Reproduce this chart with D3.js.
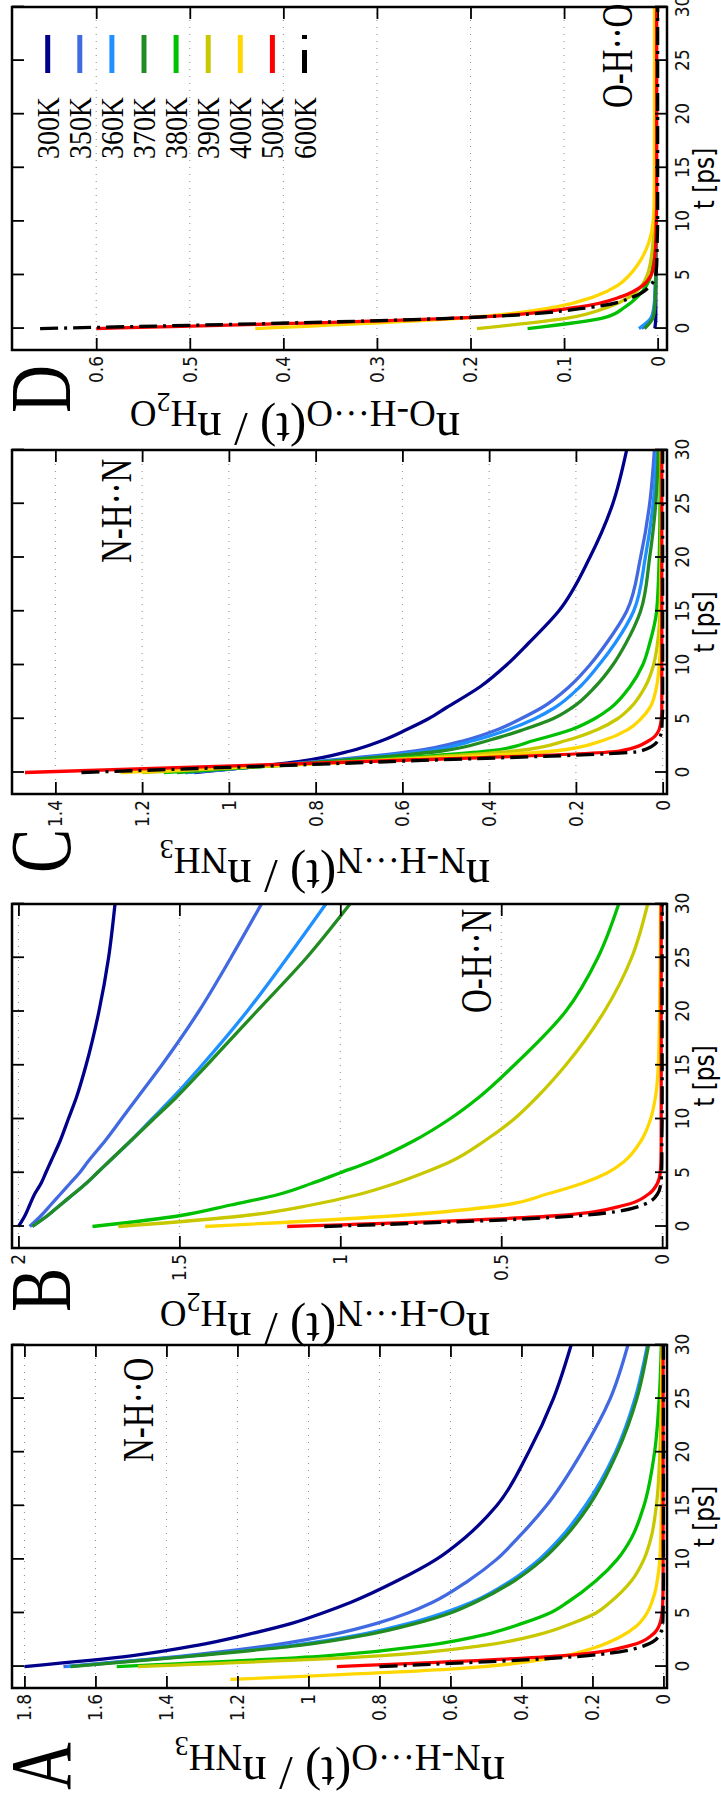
<!DOCTYPE html>
<html><head><meta charset="utf-8">
<script src="https://cdn.jsdelivr.net/npm/d3@7"></script>
<style>html,body{margin:0;padding:0;background:#fff}</style>
</head><body><svg id="c" width="721" height="1801" xmlns="http://www.w3.org/2000/svg"></svg>
<script>
// ---------- data ----------
const tVals = [0,1,2,3,4,5,6,8,10,12,15,20,25,30];
const tA400 = [-1.2,-0.2,0.8,1.8,2.8,3.8,4.8,6.8,8.8,10.8,14.8,19.8,24.8,28.8];
const temps = ["300K","350K","360K","370K","380K","390K","400K","500K","600K"];
const colors = ["#00008b","#4169e1","#1e90ff","#228b22","#00c000","#c8c800","#ffd700","#ff0000","#000000"];
const tTicks = [0,5,10,15,20,25,30];
const ticksA = [0,0.2,0.4,0.6,0.8,1,1.2,1.4,1.6,1.8];
const ticksB = [0,0.5,1,1.5,2];
const ticksC = [0,0.2,0.4,0.6,0.8,1,1.2,1.4];
const ticksD = [0,0.1,0.2,0.3,0.4,0.5,0.6];

const seriesA = [
 [1.80,1.50,1.31,1.17,1.05,0.96,0.88,0.75,0.64,0.56,0.47,0.38,0.31,0.26],
 [1.69,1.35,1.10,0.93,0.81,0.72,0.65,0.55,0.47,0.41,0.33,0.23,0.15,0.10],
 [1.68,1.33,1.04,0.85,0.72,0.62,0.54,0.43,0.35,0.29,0.22,0.135,0.08,0.045],
 [1.67,1.32,1.02,0.83,0.70,0.60,0.53,0.42,0.34,0.28,0.21,0.13,0.075,0.042],
 [1.54,0.95,0.66,0.50,0.40,0.32,0.27,0.19,0.13,0.09,0.055,0.025,0.012,0.006],
 [1.48,0.80,0.50,0.35,0.26,0.19,0.15,0.09,0.055,0.035,0.02,0.01,0.006,0.004],
 [1.22,0.58,0.31,0.19,0.12,0.075,0.05,0.025,0.014,0.009,0.006,0.005,0.004,0.004],
 [0.92,0.29,0.09,0.03,0.01,0.004,0.002,0.001,0.001,0.001,0.001,0.001,0.001,0.001],
 [0.80,0.22,0.05,0.01,0.002,0.001,0.0005,0,0,0,0,0,0,0]
];
const seriesB = [
 [2.0,1.98,1.965,1.95,1.93,1.915,1.90,1.87,1.845,1.82,1.79,1.75,1.72,1.70],
 [1.965,1.93,1.90,1.87,1.84,1.81,1.785,1.73,1.68,1.63,1.555,1.44,1.34,1.245],
 [1.957,1.91,1.87,1.83,1.79,1.755,1.72,1.65,1.585,1.52,1.43,1.29,1.165,1.045],
 [1.957,1.91,1.87,1.83,1.79,1.755,1.72,1.65,1.58,1.51,1.415,1.26,1.105,0.97],
 [1.77,1.50,1.34,1.19,1.09,1.00,0.91,0.77,0.66,0.57,0.46,0.30,0.20,0.135],
 [1.69,1.30,1.09,0.94,0.83,0.74,0.66,0.55,0.46,0.39,0.30,0.18,0.095,0.045],
 [1.42,0.83,0.49,0.36,0.25,0.17,0.12,0.065,0.036,0.021,0.012,0.008,0.006,0.005],
 [1.165,0.33,0.115,0.043,0.015,0.006,0.004,0.003,0.003,0.003,0.003,0.003,0.003,0.003],
 [1.05,0.26,0.06,0.015,0.004,0.002,0.001,0.001,0,0,0,0,0,0]
];
const seriesC = [
 [1.08,0.84,0.72,0.645,0.59,0.54,0.50,0.42,0.36,0.31,0.24,0.168,0.115,0.083],
 [1.10,0.80,0.57,0.455,0.38,0.327,0.28,0.215,0.168,0.13,0.083,0.051,0.03,0.019],
 [1.10,0.79,0.54,0.433,0.355,0.295,0.25,0.19,0.147,0.11,0.067,0.04,0.022,0.014],
 [1.12,0.78,0.51,0.40,0.32,0.253,0.21,0.155,0.115,0.085,0.051,0.03,0.016,0.01],
 [1.15,0.74,0.40,0.295,0.21,0.157,0.12,0.075,0.046,0.03,0.014,0.008,0.006,0.005],
 [1.20,0.72,0.34,0.22,0.15,0.104,0.075,0.04,0.021,0.012,0.006,0.004,0.003,0.003],
 [1.25,0.70,0.25,0.136,0.08,0.05,0.03,0.014,0.008,0.005,0.004,0.003,0.003,0.003],
 [1.47,0.70,0.10,0.03,0.008,0.003,0.002,0.002,0.002,0.002,0.002,0.002,0.002,0.002],
 [1.34,0.64,0.05,0.01,0.002,0.001,0,0,0,0,0,0,0,0]
];
const seriesD = [
 [0.003,0.002,0.002,0.002,0.002,0.002,0.002,0.002,0.002,0.002,0.002,0.002,0.002,0.002],
 [0.017,0.006,0.0035,0.003,0.0025,0.002,0.002,0.002,0.002,0.002,0.002,0.002,0.002,0.002],
 [0.020,0.007,0.004,0.003,0.0025,0.002,0.002,0.002,0.002,0.002,0.002,0.002,0.002,0.002],
 [0.014,0.005,0.003,0.0025,0.002,0.002,0.002,0.002,0.002,0.002,0.002,0.002,0.002,0.002],
 [0.139,0.058,0.035,0.021,0.012,0.007,0.005,0.003,0.002,0.002,0.002,0.002,0.002,0.002],
 [0.193,0.095,0.053,0.029,0.017,0.011,0.008,0.005,0.003,0.002,0.002,0.002,0.002,0.002],
 [0.43,0.205,0.11,0.067,0.043,0.03,0.021,0.0095,0.0048,0.0038,0.0035,0.0034,0.0034,0.0034],
 [0.60,0.21,0.085,0.038,0.016,0.007,0.004,0.002,0.0015,0.001,0.001,0.001,0.001,0.001],
 [0.66,0.21,0.07,0.025,0.008,0.002,0.001,0.0005,0,0,0,0,0,0]
];
const notes = ["N-H\u00b7\u00b7O","O-H\u00b7\u00b7N","N-H\u00b7\u00b7N","O-H\u00b7\u00b7O"];
const titlesParts = [
 [["n",0],["N-H\u00b7\u00b7\u00b7O",1],["(t) / n",0],["NH",1],["3",2]],
 [["n",0],["O-H\u00b7\u00b7\u00b7N",1],["(t) / n",0],["H",1],["2",2],["O",1]],
 [["n",0],["N-H\u00b7\u00b7\u00b7N",1],["(t) / n",0],["NH",1],["3",2]],
 [["n",0],["O-H\u00b7\u00b7\u00b7O",1],["(t) / n",0],["H",1],["2",2],["O",1]]
];
const letters = ["A","B","C","D"];

// ---------- layout (figure drawn in landscape, then rotated) ----------
const W = 1801, PT = 12, PB = 667;
const SERIF = "'Liberation Serif','Times New Roman',serif";
const SANS = "'DejaVu Sans',sans-serif";
const svg = d3.select("#c");
const root = svg.append("g").attr("transform", `translate(0,${W}) rotate(-90)`);
const fmt = d3.format("~g");

const panels = [
 {series:seriesA, ticks:ticksA, x0:113, x1:456, vmin:-0.01, vmax:1.835, tAlt:{6:tA400},
  noteX:339, noteY:153, letterX:11, titleX:44, titleY:340},
 {series:seriesB, ticks:ticksB, x0:553, x1:897, vmin:-0.015, vmax:2.02, tAlt:{},
  noteX:788, noteY:491, letterX:489, titleX:488, titleY:325},
 {series:seriesC, ticks:ticksC, x0:1007, x1:1351, vmin:-0.01, vmax:1.5, tAlt:{},
  noteX:1238, noteY:131, letterX:928, titleX:941, titleY:325},
 {series:seriesD, ticks:ticksD, x0:1451, x1:1794, vmin:-0.01, vmax:0.69, tAlt:{},
  noteX:1693, noteY:632, letterX:1388, titleX:1388, titleY:295}
];

panels.forEach((p, k) => {
  const g = root.append("g");
  const x = d3.scaleLinear().domain([-2, 30]).range([p.x0, p.x1]);
  const y = d3.scaleLinear().domain([p.vmin, p.vmax]).range([PB, PT]);

  // grid
  g.append("g").selectAll("line").data(p.ticks).join("line")
    .attr("x1", p.x0).attr("x2", p.x1)
    .attr("y1", d => y(d)).attr("y2", d => y(d))
    .attr("stroke", "#8a8a8a").attr("stroke-width", 1).attr("stroke-dasharray", "1,6");

  // curves
  const cid = "clip" + k;
  g.append("clipPath").attr("id", cid).append("rect")
    .attr("x", p.x0).attr("y", PT).attr("width", p.x1 - p.x0).attr("height", PB - PT);
  const line = d3.line().x(d => x(d[0])).y(d => y(d[1])).curve(d3.curveMonotoneX);
  const cg = g.append("g").attr("clip-path", `url(#${cid})`);
  p.series.forEach((vals, i) => {
    const ts = p.tAlt[i] || tVals;
    cg.append("path").datum(vals.map((v, j) => [ts[j], v]))
      .attr("d", line).attr("fill", "none")
      .attr("stroke", colors[i]).attr("stroke-width", 3.3)
      .attr("stroke-linejoin", "round")
      .attr("stroke-dasharray", i === 8 ? "18,6,3,6" : null);
  });

  // axes
  const styleAxis = sel => {
    sel.select(".domain").remove();
    sel.selectAll(".tick line").attr("stroke", "#000").attr("stroke-width", 1.8);
    sel.selectAll(".tick text").attr("font-family", SANS).attr("font-size", 20).attr("fill", "#111");
  };
  const axL = g.append("g").attr("transform", `translate(${p.x0},0)`)
    .call(d3.axisLeft(y).tickValues(p.ticks).tickFormat(fmt).tickSize(-12).tickPadding(7));
  styleAxis(axL);
  axL.selectAll(".tick text").attr("transform", "scale(0.85,1)");
  const axR = g.append("g").attr("transform", `translate(${p.x1},0)`)
    .call(d3.axisRight(y).tickValues(p.ticks).tickSize(-12).tickFormat(""));
  styleAxis(axR);
  const axB = g.append("g").attr("transform", `translate(0,${PB})`)
    .call(d3.axisBottom(x).tickValues(tTicks).tickFormat(fmt).tickSize(-12).tickPadding(8));
  styleAxis(axB);
  axB.selectAll(".tick text").attr("transform", "scale(0.85,1)");
  const axT = g.append("g").attr("transform", `translate(0,${PT})`)
    .call(d3.axisTop(x).tickValues(tTicks).tickSize(-12).tickFormat(""));
  styleAxis(axT);

  // frame
  g.append("rect").attr("x", p.x0).attr("y", PT).attr("width", p.x1 - p.x0).attr("height", PB - PT)
    .attr("fill", "none").attr("stroke", "#000").attr("stroke-width", 2.5);

  // x label
  g.append("text").attr("transform", `translate(${(p.x0 + p.x1) / 2},714) scale(0.8,1)`)
    .attr("text-anchor", "middle").attr("font-family", SANS).attr("font-size", 29)
    .text("t [ps]");

  // bond annotation
  g.append("text").attr("transform", `translate(${p.noteX},${p.noteY}) scale(0.75,1)`)
    .attr("font-family", SERIF).attr("font-size", 44).text(notes[k]);

  // panel letter
  g.append("text").attr("transform", `translate(${p.letterX},70) scale(0.77,1)`)
    .attr("font-family", SERIF).attr("font-size", 86).text(letters[k]);

  // y title
  const tt = g.append("text").attr("transform", `translate(${p.titleX},${p.titleY}) rotate(-90)`)
    .attr("text-anchor", "middle").attr("font-family", SERIF);
  const sizes = [49, 37, 28], offs = [0, 12, 20];
  let lvl = 0;
  titlesParts[k].forEach(([s, l]) => {
    tt.append("tspan").attr("font-size", sizes[l]).attr("dy", offs[l] - offs[lvl]).text(s);
    lvl = l;
  });
});

// legend (inside panel D)
const lg = root.append("g");
temps.forEach((lab, i) => {
  const ry = 47.7 + 32.1 * i;
  lg.append("line").attr("x1", 1728).attr("x2", 1766).attr("y1", ry).attr("y2", ry)
    .attr("stroke", colors[i]).attr("stroke-width", 5)
    .attr("stroke-dasharray", i === 8 ? "23,11,4,20" : null);
  lg.append("text").attr("transform", `translate(1704,${ry + 11}) scale(0.9,1)`)
    .attr("text-anchor", "end").attr("font-family", SERIF).attr("font-size", 31).text(lab);
});
</script>
</body></html>
